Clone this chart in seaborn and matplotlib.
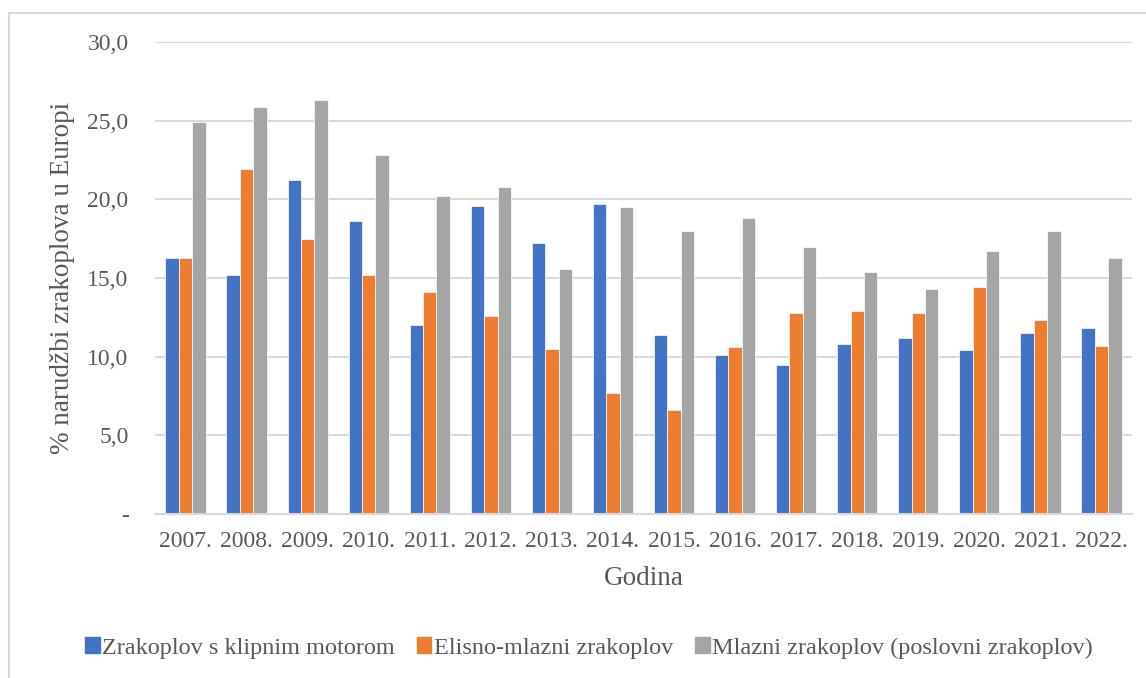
import matplotlib
matplotlib.use("Agg")
import matplotlib.pyplot as plt
import seaborn as sns
import pandas as pd
from matplotlib.lines import Line2D

# values
godine = ["2007.", "2008.", "2009.", "2010.", "2011.", "2012.", "2013.", "2014.",
          "2015.", "2016.", "2017.", "2018.", "2019.", "2020.", "2021.", "2022."]
klipni = [16.3, 15.2, 21.2, 18.6, 12.0, 19.6, 17.2, 19.7,
          11.4, 10.1, 9.5, 10.8, 11.2, 10.4, 11.5, 11.8]
elisno = [16.3, 21.9, 17.5, 15.2, 14.1, 12.6, 10.5, 7.7,
          6.6, 10.6, 12.8, 12.9, 12.8, 14.4, 12.3, 10.7]
mlazni = [24.9, 25.9, 26.3, 22.8, 20.2, 20.8, 15.6, 19.5,
          18.0, 18.8, 17.0, 15.4, 14.3, 16.7, 18.0, 16.3]
serije = ["Zrakoplov s klipnim motorom", "Elisno-mlazni zrakoplov",
          "Mlazni zrakoplov (poslovni zrakoplov)"]
y_ticks = [0, 5, 10, 15, 20, 25, 30]
y_tick_labels = ["-", "5,0", "10,0", "15,0", "20,0", "25,0", "30,0"]

boje = ["#4472C4", "#ED7D31", "#A5A5A5"]
tekst = "#595959"

df = pd.concat([
    pd.DataFrame({"Godina": godine, "Vrijednost": v, "Tip": s})
    for v, s in zip([klipni, elisno, mlazni], serije)
], ignore_index=True)

sns.set_style("white")
plt.rcParams["font.family"] = ["Liberation Serif", "DejaVu Serif"]

fig = plt.figure(figsize=(11.46, 6.78), dpi=100)
ax = fig.add_axes([155 / 1146, 1 - 514 / 678, (1132 - 155) / 1146, (514 - 42) / 678])

sns.barplot(data=df, x="Godina", y="Vrijednost", hue="Tip", palette=boje,
            saturation=1, width=0.66, edgecolor="white", linewidth=0.5,
            ax=ax, legend=False)

ax.set_ylim(0, 30)
ax.set_yticks(y_ticks)
ax.set_yticklabels(y_tick_labels)
ax.yaxis.grid(True, color="#D9D9D9", linewidth=1.5)
ax.set_axisbelow(True)
for s in ["top", "right", "left"]:
    ax.spines[s].set_visible(False)
ax.spines["bottom"].set_color("#D9D9D9")
ax.spines["bottom"].set_linewidth(1.5)
ax.tick_params(axis="y", length=0, pad=19, labelsize=17, labelcolor=tekst)
ax.tick_params(axis="x", length=0, pad=12, labelsize=17, labelcolor=tekst)

ax.set_xlabel("Godina", fontsize=19.5, color=tekst, labelpad=10)
ax.set_ylabel("% narudžbi zrakoplova u Europi", fontsize=19.5, color=tekst, labelpad=9)

handles = [plt.Rectangle((0, 0), 1, 1, color=c) for c in boje]
fig.legend(handles, serije, loc="center", bbox_to_anchor=(589 / 1146, 1 - 648 / 678),
           ncol=3, frameon=False, fontsize=17.5, labelcolor=tekst,
           handlelength=0.6, handleheight=0.6, handletextpad=0.1, columnspacing=0.9)

# chart border (left and top visible)
fig.add_artist(Line2D([9 / 1146, 9 / 1146, 1.0], [0.0, 1 - 13 / 678, 1 - 13 / 678],
                      transform=fig.transFigure, color="#D9D9D9", linewidth=1.5))

fig.savefig("out.png", dpi=100)
